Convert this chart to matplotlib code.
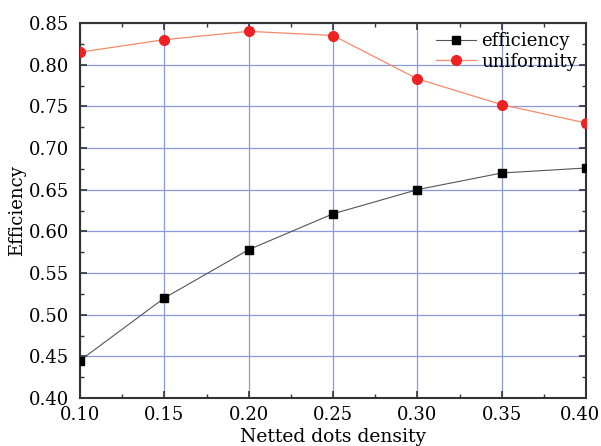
import matplotlib
matplotlib.use("Agg")
import matplotlib.pyplot as plt
from matplotlib.ticker import MultipleLocator
from matplotlib.transforms import ScaledTranslation

density = [0.10, 0.15, 0.20, 0.25, 0.30, 0.35, 0.40]
efficiency = [0.445, 0.520, 0.578, 0.621, 0.650, 0.670, 0.676]
uniformity = [0.815, 0.830, 0.840, 0.835, 0.783, 0.752, 0.730]

plt.rcParams['font.family'] = ['DejaVu Serif']
fig = plt.figure(figsize=(6.01, 4.46), dpi=100)
ax = fig.add_axes([80/601, 48/446, 506/601, 375/446])

ax.plot(density, efficiency, color='#555555', lw=0.8, marker='s', ms=6,
        mfc='black', mec='black', label='efficiency', zorder=3)
ax.plot(density, uniformity, color='#f58a6a', lw=0.9, marker='o', ms=7,
        mfc='#ee2222', mec='#ee2222', label='uniformity', zorder=3)

ax.set_xlim(0.10, 0.40)
ax.set_ylim(0.40, 0.85)
ax.xaxis.set_major_locator(MultipleLocator(0.05))
ax.xaxis.set_minor_locator(MultipleLocator(0.025))
ax.yaxis.set_major_locator(MultipleLocator(0.05))
ax.yaxis.set_minor_locator(MultipleLocator(0.025))
ax.xaxis.set_major_formatter(plt.FormatStrFormatter('%.2f'))
ax.yaxis.set_major_formatter(plt.FormatStrFormatter('%.2f'))
ax.grid(True, which='major', color='#8b98e0', lw=0.9)
ax.tick_params(which='both', direction='in', top=True, right=True,
               labelsize=13, color='#333333')
ax.tick_params(axis='x', which='major', pad=6)
ax.tick_params(axis='y', which='major', pad=8)
ax.tick_params(which='major', length=5, width=1.2)
ax.tick_params(which='minor', length=3, width=1.0)
for s in ax.spines.values():
    s.set_linewidth(1.5)
    s.set_color('#333333')

ax.set_xlabel('Netted dots density', fontsize=13.5, labelpad=3)
ax.set_ylabel('Efficiency', fontsize=13, labelpad=2)

leg = ax.legend(loc='upper right', frameon=False, fontsize=13,
                handlelength=2.2, handletextpad=0.3, labelspacing=0.15,
                borderaxespad=0.1)

fig.canvas.draw()
shift = ScaledTranslation(-6/100, 0, fig.dpi_scale_trans)
labels = ax.xaxis.get_majorticklabels()
last = [lb for lb in labels if lb.get_text() == '0.40']
for lb in last:
    lb.set_transform(lb.get_transform() + shift)

fig.savefig('out.png', dpi=100)
